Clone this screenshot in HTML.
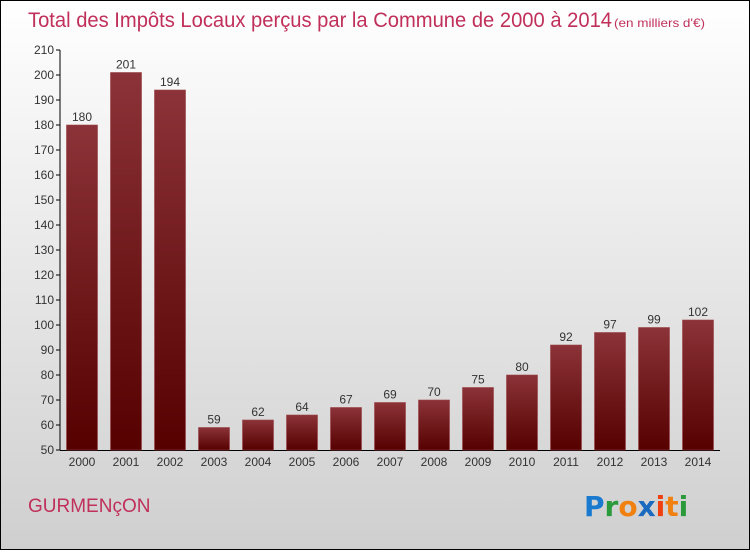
<!DOCTYPE html>
<html><head><meta charset="utf-8"><style>
body{margin:0}
#c{width:750px;height:550px;position:relative;font-family:"Liberation Sans",sans-serif}
</style></head><body>
<div id="c">
<svg width="750" height="550" xmlns="http://www.w3.org/2000/svg">
<defs>
<linearGradient id="bg" x1="0" y1="0" x2="0" y2="1"><stop offset="0" stop-color="#ffffff"/><stop offset="1" stop-color="#cfcfcf"/></linearGradient>
<linearGradient id="bar" x1="0" y1="0" x2="0" y2="1"><stop offset="0" stop-color="#8b3338"/><stop offset="1" stop-color="#560000"/></linearGradient>
</defs>
<rect x="0.5" y="0.5" width="749" height="549" fill="url(#bg)" stroke="#000"/>
<text x="28" y="27" font-size="21" fill="#c0305a" textLength="584" lengthAdjust="spacingAndGlyphs">Total des Impôts Locaux perçus par la Commune de 2000 à 2014</text>
<text x="614" y="27" font-size="12" fill="#c0305a" textLength="91" lengthAdjust="spacingAndGlyphs">(en milliers d'€)</text>
<g id="axes"></g>
<g id="bars"></g>
<text x="28" y="512" font-size="19" fill="#c0305a">GURMENçON</text>
<g font-size="28" font-weight="bold" font-family="'DejaVu Sans',sans-serif">
<text x="584" y="516"><tspan fill="#1a7ad0">P</tspan><tspan fill="#2a9a3a">r</tspan><tspan fill="#f08010">o</tspan><tspan fill="#1a6ac0">x</tspan><tspan fill="#f04010">i</tspan><tspan fill="#f08010">t</tspan><tspan fill="#2a9a3a">i</tspan></text>
</g>
</svg>
</div>
<script>
const years=["2000","2001","2002","2003","2004","2005","2006","2007","2008","2009","2010","2011","2012","2013","2014"];
const values=[180,201,194,59,62,64,67,69,70,75,80,92,97,99,102];
const yTicks=[50,60,70,80,90,100,110,120,130,140,150,160,170,180,190,200,210];
const NS="http://www.w3.org/2000/svg";
const y=v=>450-(v-50)*2.5;
const x=i=>82+i*44;
function mk(t,a,p){const e=document.createElementNS(NS,t);for(const k in a)e.setAttribute(k,a[k]);p.appendChild(e);return e;}
const ax=document.getElementById('axes'),bg=document.getElementById('bars');
const yl=mk('line',{x1:60,y1:50,x2:60,y2:450,stroke:'#000'},ax);


const xl=mk('line',{x1:60,y1:450.5,x2:720,y2:450.5,stroke:'#000'},ax);


yTicks.forEach(v=>{
 mk('line',{x1:56,y1:y(v),x2:60,y2:y(v),stroke:'#000'},ax);
 const t=mk('text',{x:54,y:y(v)+4,'text-anchor':'end','font-size':12,fill:'#333'},ax);
 t.textContent=v;
 
 
});
years.forEach((yr,i)=>{
 const v=values[i];
 const r=mk('rect',{x:x(i)-15.5,y:y(v),width:31,height:450-y(v),fill:'url(#bar)',stroke:'#9a4448','stroke-width':0.6},bg);
 
 
 const l=mk('text',{x:x(i),y:y(v)-4,'text-anchor':'middle','font-size':12,fill:'#333'},bg);
 l.textContent=v;
 
 
 const xt=mk('text',{x:x(i),y:466,'text-anchor':'middle','font-size':12,fill:'#333'},ax);
 xt.textContent=yr;
 
 
});
</script>
</body></html>
